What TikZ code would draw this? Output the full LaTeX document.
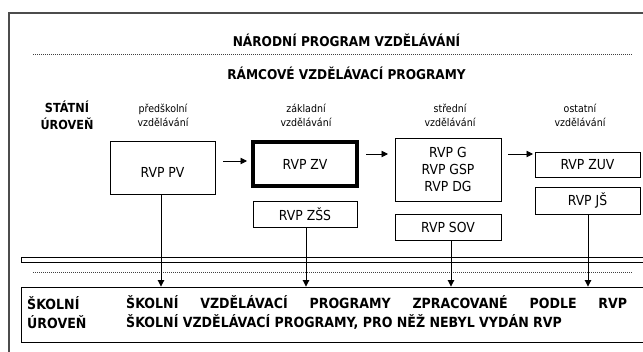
\documentclass[tikz,border=0pt]{standalone}
\usepackage{fontspec}
\setmainfont{DejaVu Sans}[FakeStretch=0.9]
\usetikzlibrary{arrows.meta}
\newcommand\labfont{\fontsize{13.8}{17}\selectfont}
\newcommand\catfont{\fontsize{10.5}{14}\selectfont}
\newcommand\headfont{\fontsize{13.5}{17}\selectfont\bfseries}
\newcommand\botfont{\fontsize{14}{19}\selectfont\bfseries}
\begin{document}
\begin{tikzpicture}[x=1pt,y=-1pt,
  box/.style={draw=black, line width=0.9pt, rectangle, inner sep=0pt, font=\labfont, align=center},
  arr/.style={line width=0.9pt, -{Triangle[length=6.5pt,width=6.5pt]}},
  dotline/.style={draw=black!75, line width=0.8pt, dash pattern=on 1pt off 1pt},
  cat/.style={font=\catfont, align=center, inner sep=0pt},
  head/.style={font=\headfont, inner sep=0pt},
  bot/.style={font=\botfont, align=left, inner sep=0pt, anchor=west}]
\useasboundingbox (0,0) rectangle (643,351);
\fill[white] (0,0) rectangle (643,351);
\begin{scope}
\clip (0,0) rectangle (643,351);
% outer frame
\draw[black!70, line width=1.4pt] (9,360) -- (9,13) -- (660,13);
% headings
\node[head] (t1) at (346.5,40) {NÁRODNÍ PROGRAM VZDĚLÁVÁNÍ};
\draw[dotline] (33,54) -- (632,54);
\node[head] (t2) at (346.5,73) {RÁMCOVÉ VZDĚLÁVACÍ PROGRAMY};
\node[font=\fontsize{12.5}{17}\selectfont\bfseries, align=center, inner sep=0pt] (st) at (67,115.5) {STÁTNÍ\\ÚROVEŇ};
% categories
\node[cat] (c1) at (163,115) {předškolní\\vzdělávání};
\node[cat] (c2) at (306,115) {základní\\vzdělávání};
\node[cat] (c3) at (450,115) {střední\\vzdělávání};
\node[cat] (c4) at (580,115) {ostatní\\vzdělávání};
% boxes
\node[box, minimum width=105pt, minimum height=53pt, text height=20pt, text depth=0pt] (pv) at (162.5,167.5) {RVP PV};
\node[box, line width=3.5pt, minimum width=104pt, minimum height=44pt] (zv) at (305,164) {RVP ZV};
\node[box, minimum width=104pt, minimum height=26pt] (zss) at (305,214) {RVP ZŠS};
\node[box, minimum width=106pt, minimum height=63pt] (g) at (448,169.5) {RVP G\\RVP GSP\\RVP DG};
\node[box, minimum width=106pt, minimum height=26pt] (sov) at (448,227) {RVP SOV};
\node[box, minimum width=105pt, minimum height=25pt] (zuv) at (587.5,164.5) {RVP ZUV};
\node[box, minimum width=105pt, minimum height=27pt] (js) at (587.5,200.5) {RVP JŠ};
% separators
\draw[black, line width=0.9pt] (21,257) rectangle (660,262);
\draw[dotline] (33,272) -- (632,272);
% school level box
\node[draw=black, line width=0.9pt, rectangle, minimum width=639pt, minimum height=55pt, inner sep=0pt] (school) at (340.5,314.5) {};
\node[bot] (sl) at (27,312.5) {ŠKOLNÍ\\ÚROVEŇ};
\node[bot] (sp) at (126,312.5) {\makebox[501pt][s]{ŠKOLNÍ VZDĚLÁVACÍ PROGRAMY ZPRACOVANÉ PODLE RVP}\\ŠKOLNÍ VZDĚLÁVACÍ PROGRAMY, PRO NĚŽ NEBYL VYDÁN RVP};
% horizontal arrows
\coordinate (a1s) at (223,161); \coordinate (a1e) at (247,161);
\coordinate (a2s) at (366,154); \coordinate (a2e) at (388,154);
\coordinate (a3s) at (508,154); \coordinate (a3e) at (533,154);
\draw[arr] (a1s) -- (a1e);
\draw[arr] (a2s) -- (a2e);
\draw[arr] (a3s) -- (a3e);
% vertical connectors
\draw[arr] ([xshift=-1.5pt]pv.south) -- ([xshift=-1.5pt]pv.south |- school.north);
\draw[arr] ([xshift=1pt]zss.south) -- ([xshift=1pt]zss.south |- school.north);
\draw[arr] ([xshift=3pt]sov.south) -- ([xshift=3pt]sov.south |- school.north);
\draw[arr] ([xshift=0.5pt]js.south) -- ([xshift=0.5pt]js.south |- school.north);
\end{scope}
\end{tikzpicture}
\end{document}
